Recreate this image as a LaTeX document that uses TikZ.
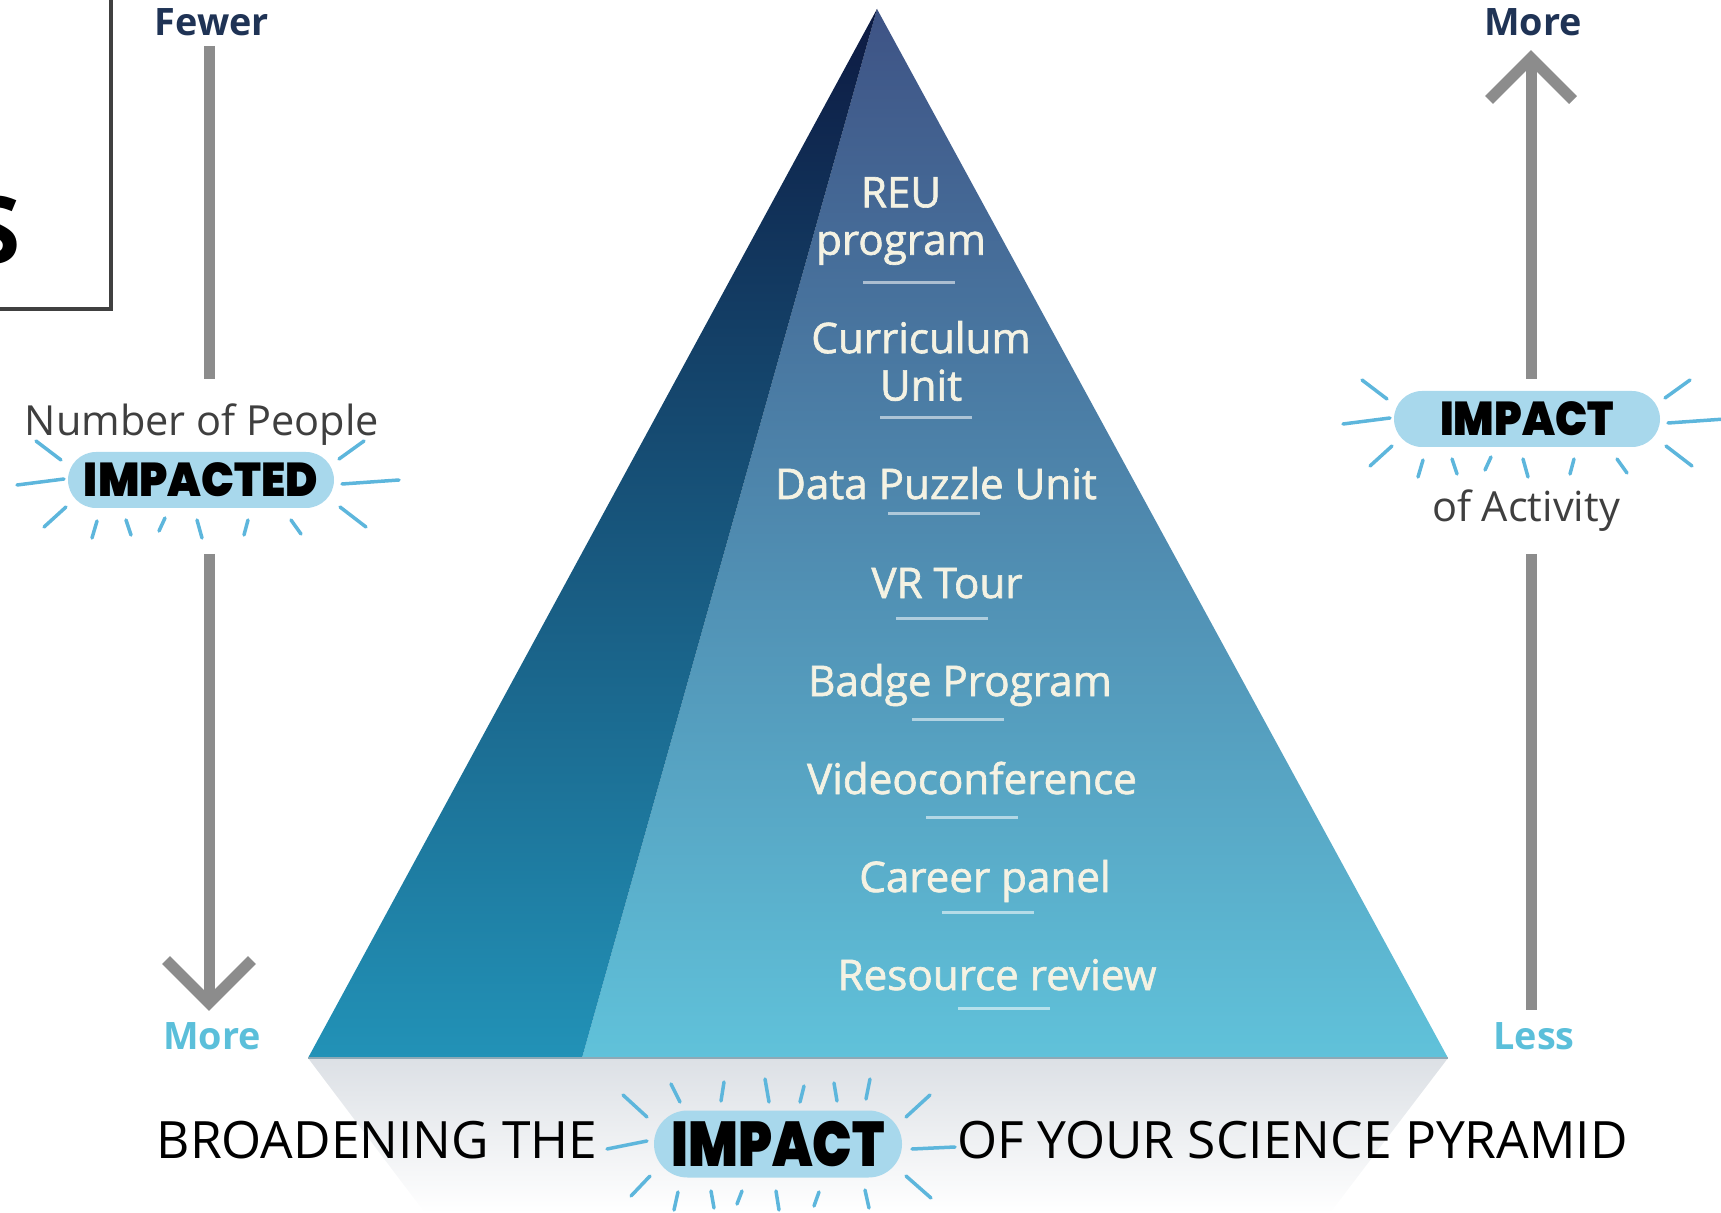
\documentclass[tikz,border=0pt]{standalone}
\usepackage{fontspec}
\usepackage{graphicx}
\setmainfont{Open Sans}
\IfFontExistsTF{Poppins Black}
  {\newfontfamily\heavyfont{Poppins Black}}
  {\newfontfamily\heavyfont{Poppins}[FakeBold=2]}
\newfontfamily\itemfont{Open Sans}[FakeBold=1.5]
\usetikzlibrary{calc}

\definecolor{navy}{HTML}{1F3355}
\definecolor{skyblue}{HTML}{5BBFDA}
\definecolor{axisgray}{HTML}{8C8C8C}
\definecolor{pillblue}{HTML}{A8D8EC}
\definecolor{rayblue}{HTML}{5DB6DC}
\definecolor{cream}{HTML}{F4F2E3}
\definecolor{boxgray}{HTML}{404040}
\definecolor{labelgray}{HTML}{3F3F3F}
\definecolor{shadowTop}{HTML}{DCE0E5}
\definecolor{faceTop}{HTML}{3E5385}
\definecolor{faceMid}{HTML}{4A88AA}
\definecolor{faceBot}{HTML}{60C2DA}
\definecolor{edgeTop}{HTML}{0D1A42}
\definecolor{edgeMid}{HTML}{164A6F}
\definecolor{edgeBot}{HTML}{2292B7}
\definecolor{baseline}{HTML}{8EA9B6}

\begin{document}
\begin{tikzpicture}[x=0.2mm, y=-0.2mm,
    axis/.style={line width=2.2mm, draw=axisgray},
    ray/.style={line width=0.7mm, draw=rayblue, line cap=round},
    pill/.style={fill=pillblue, rounded corners=5.6mm, minimum width=53.2mm, minimum height=11.2mm, inner sep=0pt},
    item/.style={text=cream, font=\itemfont\fontsize{24}{27}\selectfont, align=center, inner sep=0pt},
    uline/.style={line width=0.6mm, draw=white, draw opacity=0.55},
    lbl/.style={inner sep=0pt, anchor=base}]
            \path[use as bounding box] (0,0) rectangle (1721,1213);

            \draw[line width=0.9mm, draw=boxgray] (-20,309) -- (111,309) -- (111,-20);
            \node[lbl, anchor=base east, font=\fontsize{53}{53}\selectfont\bfseries] (titleS) at (21,264) {S};

            \coordinate (apex) at (877,9);
            \coordinate (bl) at (308,1058);
            \coordinate (split) at (582,1058);
            \coordinate (br) at (1448,1058);
            \coordinate (sl) at (425,1213);
            \coordinate (sr) at (1330,1213);
            \shade[top color=shadowTop, bottom color=white] (bl) -- (br) -- (sr) -- (sl) -- cycle;
            \shade[top color=faceTop, middle color=faceMid, bottom color=faceBot] (apex) -- (split) -- (br) -- cycle;
            \shade[top color=edgeTop, middle color=edgeMid, bottom color=edgeBot] (apex) -- (bl) -- (split) -- cycle;
            \draw[line width=0.4mm, draw=baseline] (bl) -- (br);

            \foreach \n/\t/\x/\y in {reu/{REU\\program}/901/221, curr/{Curriculum\\Unit}/921/361}
                \node[item] (\n) at (\x,\y) {\t};
            \foreach \n/\t/\x/\y in {data/Data Puzzle Unit/936/499, vr/VR Tour/947/598,
                badge/Badge Program/960/696, video/Videoconference/972/794,
                career/Career panel/985/892, res/Resource review/997/990}
                \node[item, anchor=base] (\n) at (\x,\y) {\t};
            \foreach \x/\y in {909/283, 926/418, 934/514, 942/618, 958/719, 972/817, 988/912, 1004/1008}
                \draw[uline] (\x-46,\y) -- (\x+46,\y);

            \node[lbl, text=navy, font=\fontsize{21.5}{21.5}\selectfont\bfseries] (fewer) at (212,36) {Fewer};
            \node[lbl, text=navy, font=\fontsize{21.5}{21.5}\selectfont\bfseries] (moreTop) at (1533,36) {More};
            \node[lbl, text=skyblue, font=\fontsize{21.5}{21.5}\selectfont\bfseries] (moreBot) at (212,1049) {More};
            \node[lbl, text=skyblue, font=\fontsize{21.5}{21.5}\selectfont\bfseries] (less) at (1534,1049) {Less};
            \node[lbl, text=labelgray, font=\fontsize{23.6}{23.6}\selectfont] (people) at (202,436) {Number of People};
            \node[lbl, text=labelgray, font=\fontsize{23.6}{23.6}\selectfont] (activity) at (1526,522) {of Activity};

            \coordinate (lTop) at (209,46);
            \coordinate (lMid) at (209,379);
            \coordinate (lLow) at (209,554);
            \coordinate (lTip) at (209,1003);
            \coordinate (lArmA) at (166,960);
            \coordinate (lArmB) at (252,960);
            \draw[axis] (lTop) -- (lMid);
            \draw[axis] (lLow) -- (lTip);
            \draw[axis] (lArmA) -- (lTip) -- (lArmB);
            \coordinate (rTip) at (1531,58);
            \coordinate (rMid) at (1531,379);
            \coordinate (rLow) at (1531,554);
            \coordinate (rBot) at (1531,1010);
            \coordinate (rArmA) at (1489,100);
            \coordinate (rArmB) at (1573,100);
            \draw[axis] (rTip) -- (rMid);
            \draw[axis] (rLow) -- (rBot);
            \draw[axis] (rArmA) -- (rTip) -- (rArmB);

            \node[pill] (impLeft) at (201,480) {\scalebox{0.92}[1]{\heavyfont\fontsize{27}{27}\selectfont IMPACTED}};
            \node[pill] (impRight) at (1527,419) {\scalebox{0.9}[1]{\heavyfont\fontsize{27}{27}\selectfont IMPACT}};
            \node[pill, minimum width=49.6mm, minimum height=13.4mm, rounded corners=6.7mm] (impBottom) at (778,1144) {\scalebox{0.83}[1]{\heavyfont\fontsize{36}{36}\selectfont IMPACT}};
            \foreach \p in {impLeft,impRight}
                \foreach \a/\b/\c/\d in {-165/-39/-140/-20, -184/5/-137/-1, -157/47/-135/27,
                    138/-21/163/-39, 141/4/198/0, 139/27/165/47, -104/41/-109/58, -75/40/-70/55,
                    -36/38/-42/51, -4/40/1/58, 47/40/43/55, 90/40/100/54}
                    \draw[ray] ($(\p)+(\a,\b)$) -- ($(\p)+(\c,\d)$);
            \foreach \a/\b/\c/\d in {-155/-49/-131/-27, -107/-60/-98/-42, -54/-62/-57/-43,
                -13/-65/-9/-42, 26/-58/22/-42, 56/-61/59/-43, 92/-65/88/-45, 152/-49/128/-27,
                -171/5/-131/-3, 134/5/177/3, -147/52/-128/32, 128/32/153/54,
                -100/48/-104/66, -67/47/-64/64, -36/47/-41/60, -2/47/1/66, 41/48/36/62, 87/46/91/64}
                \draw[ray] ($(impBottom)+(\a,\b)$) -- ($(impBottom)+(\c,\d)$);

            \node[lbl, anchor=base east, font=\fontsize{29.3}{29.3}\selectfont] (broad) at (598,1158) {BROADENING THE};
            \node[lbl, anchor=base west, font=\fontsize{29.3}{29.3}\selectfont] (sci) at (957,1158) {OF YOUR SCIENCE PYRAMID};
        \end{tikzpicture}
\end{document}
